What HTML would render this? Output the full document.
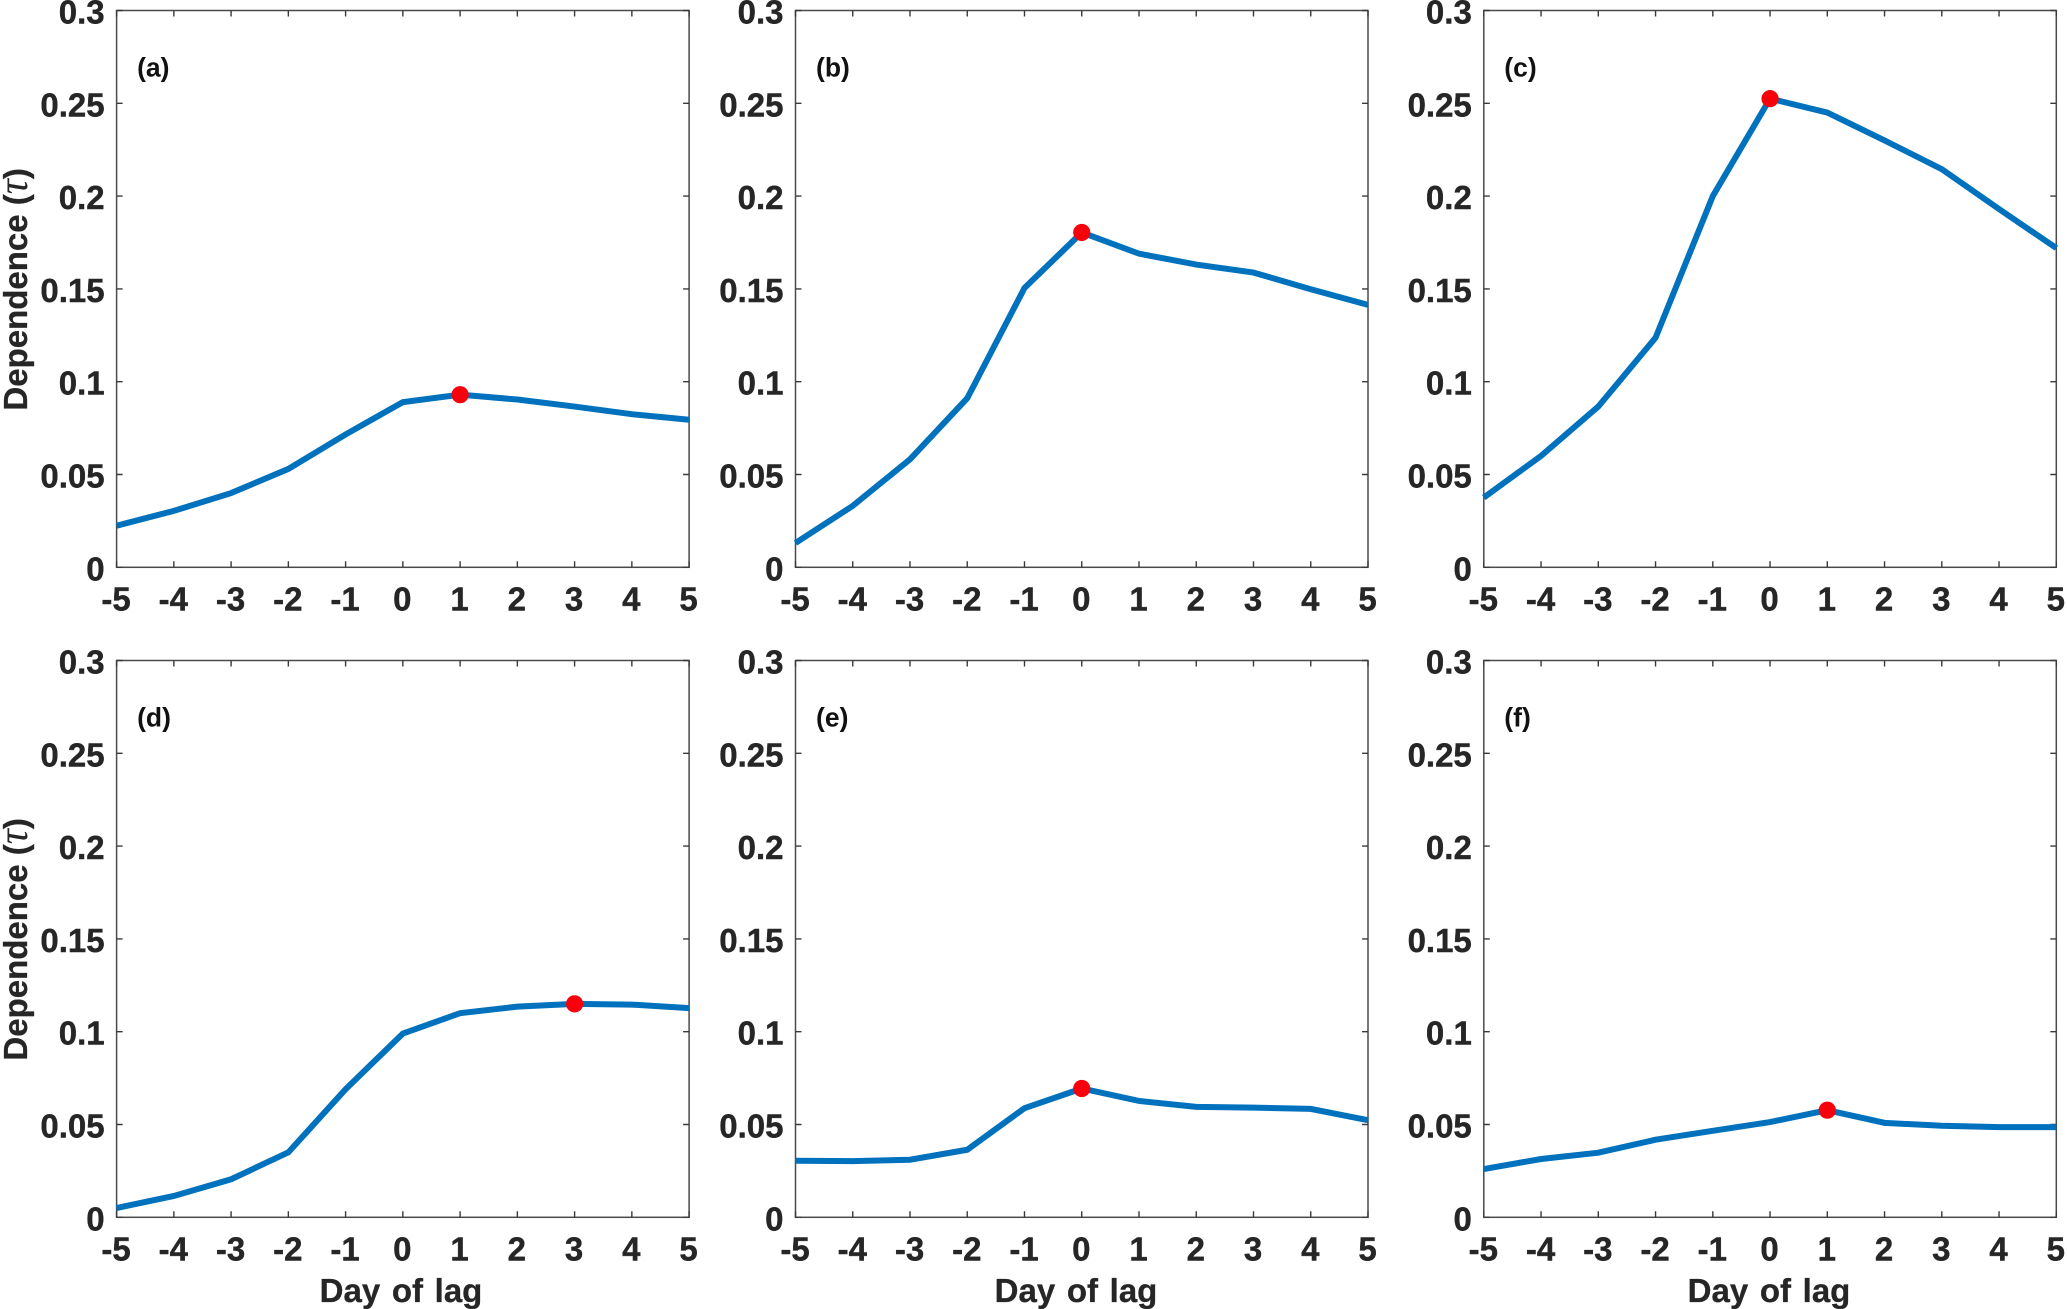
<!DOCTYPE html>
<html lang="en">
<head>
<meta charset="utf-8">
<title>Dependence versus day of lag</title>
<style>
html,body{margin:0;padding:0;background:#fff;width:2067px;height:1309px;overflow:hidden}
svg{display:block;font-family:"Liberation Sans",Arial,sans-serif}
.tick-text{font-size:33px;font-weight:700;fill:#262626;stroke:#262626;stroke-width:.4px}
.axis-title{font-size:33px;font-weight:700;fill:#262626;stroke:#262626;stroke-width:.3px}
.panel-tag{font-size:26.5px;font-weight:700;fill:#111}
</style>
</head>
<body>
<svg id="chart" xmlns="http://www.w3.org/2000/svg" width="2067" height="1309" viewBox="0 0 2067 1309"></svg>
<script>
// Chart data
const lagDays = [-5,-4,-3,-2,-1,0,1,2,3,4,5];
const yTickValues = [0,0.05,0.1,0.15,0.2,0.25,0.3];
const yTickLabels = ['0','0.05','0.1','0.15','0.2','0.25','0.3'];
const panelTags = ['a','b','c','d','e','f'];
const seriesA = [0.0224,0.0304,0.0400,0.0530,0.0716,0.0890,0.0930,0.0904,0.0866,0.0825,0.0795];
const seriesB = [0.0131,0.0331,0.0582,0.0911,0.1505,0.1804,0.1690,0.1631,0.1588,0.1498,0.1414];
const seriesC = [0.0376,0.0600,0.0866,0.1237,0.2000,0.2525,0.2450,0.2300,0.2145,0.1930,0.1720];
const seriesD = [0.0050,0.0115,0.0205,0.0350,0.0690,0.0990,0.1100,0.1135,0.1150,0.1146,0.1127];
const seriesE = [0.0305,0.0303,0.0310,0.0364,0.0588,0.0694,0.0627,0.0595,0.0591,0.0584,0.0523];
const seriesF = [0.0260,0.0314,0.0348,0.0418,0.0466,0.0513,0.0577,0.0509,0.0493,0.0486,0.0486];
const allSeries = [seriesA,seriesB,seriesC,seriesD,seriesE,seriesF];
const peakLags = [1,0,0,3,0,1];

// Layout (not data)
const columnLeft = [116.6,795.5,1483.8];
const rowTop = [10.5,660.5];
const xTitleCenter = [401,1076,1769];
const plotWidth = 572.5;
const plotHeight = 556.8;
const xMin = -5, xMax = 5, yMin = 0, yMax = 0.3;
const svg = document.getElementById('chart');
const NS = 'http://www.w3.org/2000/svg';

function make(tag, parent, attrs, text) {
  const el = document.createElementNS(NS, tag);
  for (const k in attrs) el.setAttribute(k, attrs[k]);
  if (text !== undefined) el.textContent = text;
  parent.appendChild(el);
  return el;
}

panelTags.forEach(function (tag, p) {
  const left = columnLeft[p % 3];
  const top = rowTop[Math.floor(p / 3)];
  const bottom = top + plotHeight;
  const right = left + plotWidth;
  const xScale = function (v) { return left + (v - xMin) / (xMax - xMin) * plotWidth; };
  const yScale = function (v) { return bottom - (v - yMin) / (yMax - yMin) * plotHeight; };

  const group = make('g', svg, {});
  
  

  const frame = make('rect', group, {x:left, y:top, width:plotWidth, height:plotHeight, fill:'#fff', stroke:'#4a4a4a', 'stroke-width':1.5});
  
  

  lagDays.forEach(function (d) {
    const x = xScale(d);
    const t = make('path', group, {d:'M'+x+' '+bottom+'V'+(bottom-6)+'M'+x+' '+top+'V'+(top+6), stroke:'#3a3a3a', 'stroke-width':1.4, fill:'none'});
    
    
    const l = make('text', group, {x:x-0.5, y:bottom+43, 'text-anchor':'middle', class:'tick-text'}, String(d));
    
    
  });

  yTickValues.forEach(function (v, i) {
    const y = yScale(v);
    const t = make('path', group, {d:'M'+left+' '+y+'H'+(left+6)+'M'+right+' '+y+'H'+(right-6), stroke:'#3a3a3a', 'stroke-width':1.4, fill:'none'});
    
    
    const l = make('text', group, {x:left-12, y:y+13, 'text-anchor':'end', class:'tick-text'}, yTickLabels[i]);
    
    
  });

  const values = allSeries[p];
  const pts = lagDays.map(function (d, i) { return xScale(d) + ',' + yScale(values[i]); }).join(' ');
  const line = make('polyline', group, {points:pts, fill:'none', stroke:'#0072bd', 'stroke-width':6, 'stroke-linejoin':'miter'});
  
  

  const peakIndex = lagDays.indexOf(peakLags[p]);
  const marker = make('circle', group, {cx:xScale(peakLags[p]), cy:yScale(values[peakIndex]), r:8.6, fill:'#f8000c'});
  
  

  const label = make('text', group, {x:left+20.5, y:top+66, class:'panel-tag'}, '(' + tag + ')');
  
  

  if (p % 3 === 0) {
    const cy = top + plotHeight * 0.5;
    const yTitle = make('text', group, {transform:'translate(27 '+(cy+0.5)+') rotate(-90)', 'text-anchor':'middle', class:'axis-title'});
    
    
    make('tspan', yTitle, {}, 'Dependence (');
    make('tspan', yTitle, {'font-family':'"Liberation Serif",serif','font-style':'italic','font-weight':'400','font-size':'42px','stroke-width':'0'}, 'τ');
    make('tspan', yTitle, {}, ')');
  }
  if (p >= 3) {
    const xTitle = make('text', group, {x:xTitleCenter[p-3], y:1302, 'text-anchor':'middle', class:'axis-title', style:'word-spacing:2.5px'}, 'Day of lag');
    
    
  }
});
</script>
</body>
</html>
